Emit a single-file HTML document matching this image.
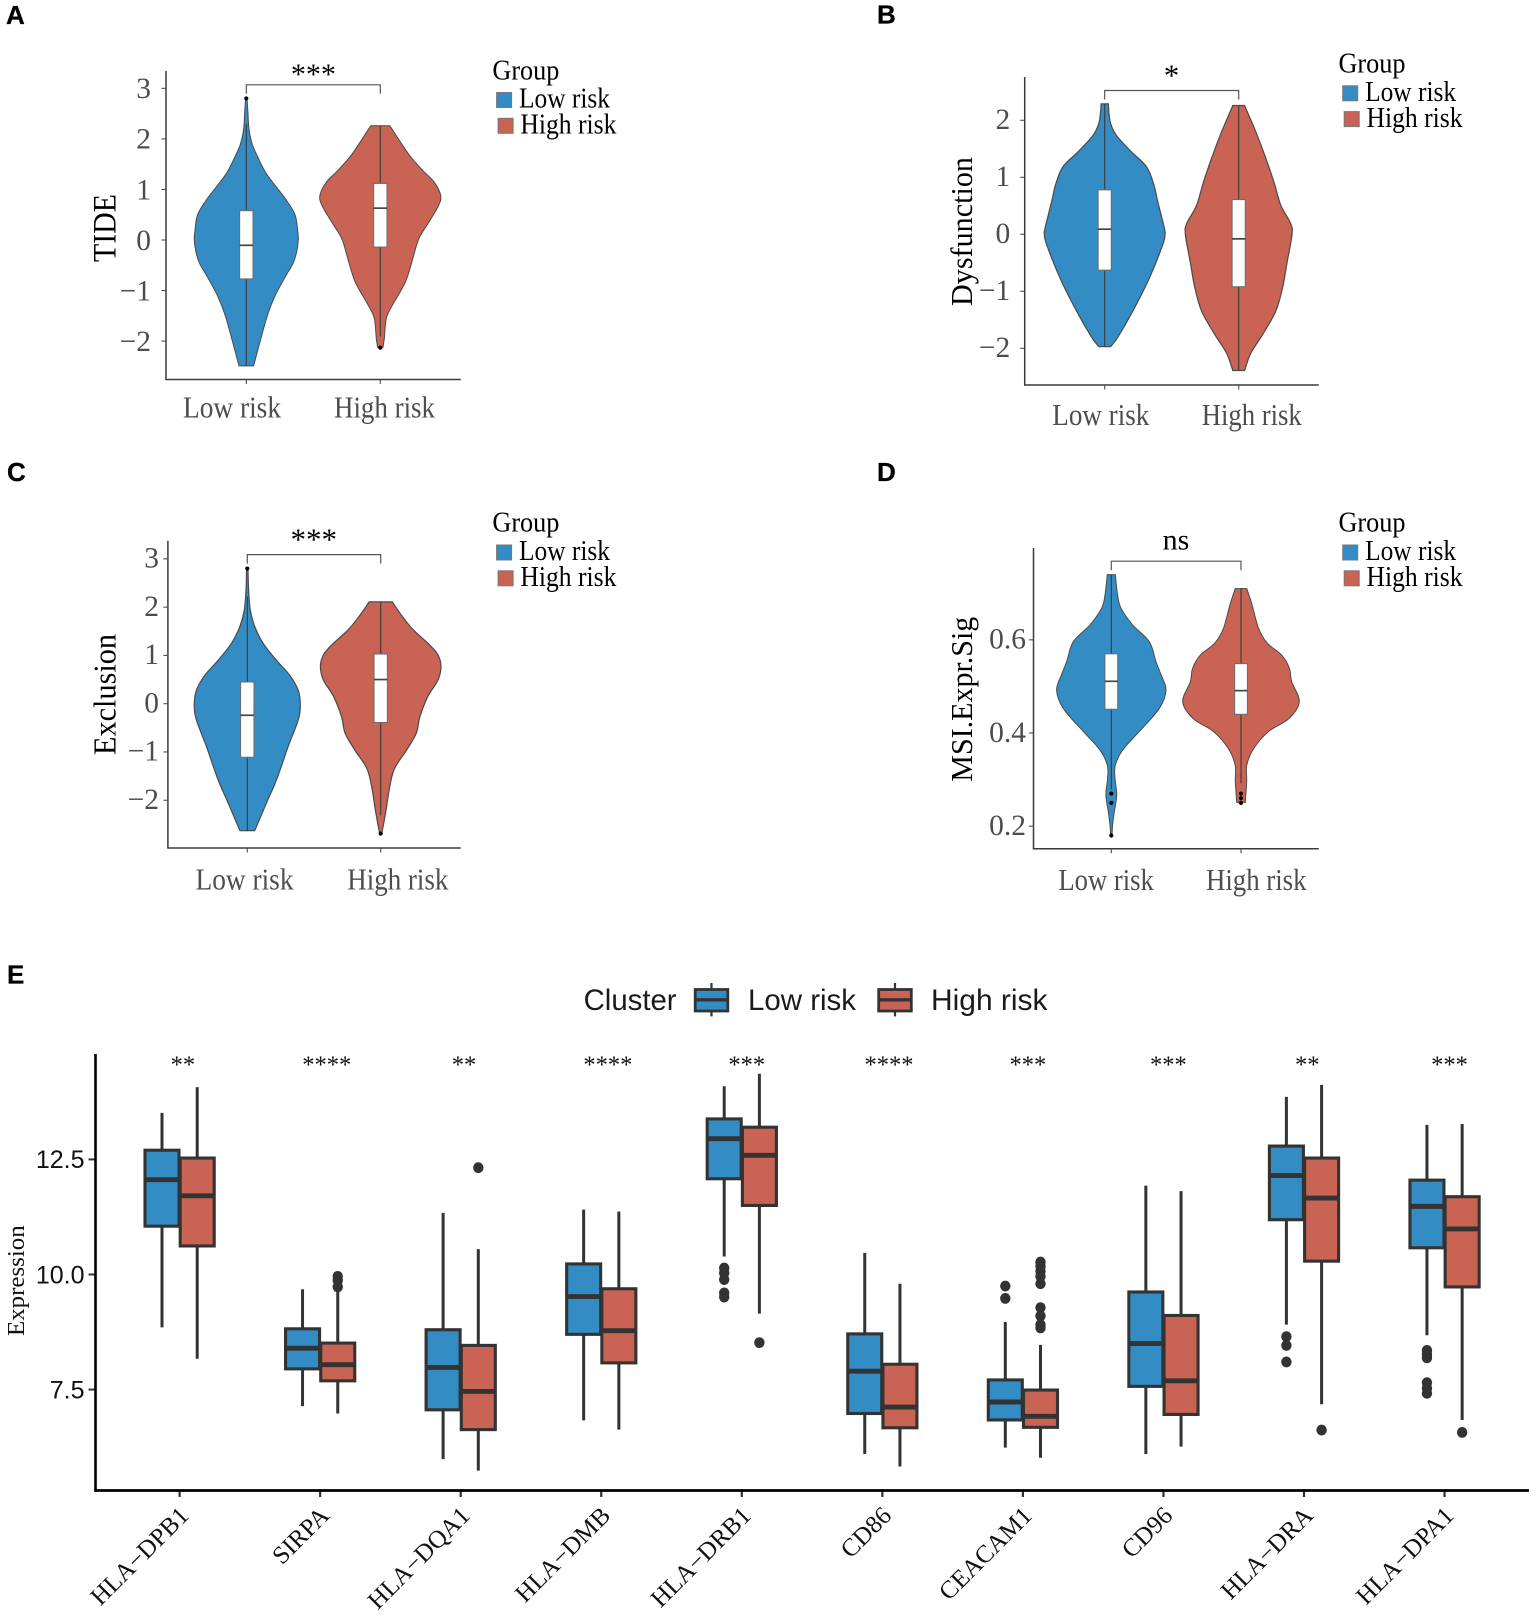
<!DOCTYPE html>
<html lang="en">
<head>
<meta charset="utf-8">
<title>Immune panels: violin and box plots by risk group</title>
<style>
html,body{margin:0;padding:0;background:#fff;}
svg{display:block;}
</style>
</head>
<body>
<svg id="figure" xmlns="http://www.w3.org/2000/svg" width="1535" height="1615" viewBox="0 0 1535 1615"></svg>
<script>
/* ---------- Shared labels ---------- */
const groupNames = ['Low risk', 'High risk'];

/* ---------- Panel A data ---------- */
const aTicks = [-2, -1, 0, 1, 2, 3];
const aTickLabels = ['\u22122', '\u22121', '0', '1', '2', '3'];
const aLowValues = [2.80, 2.54, 2.27, 2.08, 1.88, 1.62, 1.32, 1.06, .76, .49, .16, 0, -.23, -.46, -.69, -1.09, -1.48, -1.95, -2.49];
const aLowDensity = [.013, .03, .045, .07, .12, .23, .38, .57, .79, .94, .99, 1, .97, .90, .77, .56, .41, .28, .14];
const aHighValues = [2.26, 1.98, 1.65, 1.38, 1.15, .89, .69, .36, .03, -.36, -.82, -1.29, -1.55, -1.95, -2.12];
const aHighDensity = [.16, .31, .50, .70, .89, 1, .97, .81, .64, .54, .42, .20, .10, .066, .044];
const aLowBox = [-2.49, -.77, -.105, .58, 2.30];
const aHighBox = [-1.91, -.14, .63, 1.12, 2.26];
const aLowOutliers = [2.80];
const aHighOutliers = [-2.13];

/* ---------- Panel B data ---------- */
const bTicks = [-2, -1, 0, 1, 2];
const bTickLabels = ['\u22122', '\u22121', '0', '1', '2'];
const bLowValues = [2.29, 1.98, 1.74, 1.45, 1.19, .89, .57, .105, -.01, -.19, -.77, -1.36, -1.80, -1.97];
const bLowDensity = [.06, .09, .19, .44, .69, .81, .88, .99, 1, .96, .74, .46, .22, .10];
const bHighValues = [2.26, 1.80, 1.33, .92, .51, .19, -.01, -.48, -.95, -1.36, -1.77, -2.09, -2.39];
const bHighDensity = [.11, .32, .51, .66, .79, .975, 1, .91, .82, .69, .44, .225, .11];
const bLowBox = [-1.97, -.63, .09, .78, 2.29];
const bHighBox = [-2.39, -.92, -.08, .61, 2.26];
const bLowOutliers = [];
const bHighOutliers = [];

/* ---------- Panel C data ---------- */
const cTicks = [-2, -1, 0, 1, 2, 3];
const cTickLabels = ['\u22122', '\u22121', '0', '1', '2', '3'];
const cLowValues = [2.80, 2.35, 1.94, 1.60, 1.25, .90, .59, .28, -.03, -.34, -.89, -1.58, -2.06, -2.63];
const cLowDensity = [.013, .025, .057, .14, .30, .55, .80, .96, 1, .96, .77, .55, .36, .14];
const cHighValues = [2.11, 1.84, 1.53, 1.22, 1.01, .77, .49, .145, -.27, -.61, -.96, -1.34, -1.72, -2.27, -2.69];
const cHighDensity = [.19, .34, .54, .81, .95, 1, .95, .78, .65, .59, .43, .23, .15, .08, .017];
const cLowBox = [-2.64, -1.11, -.24, .45, 2.22];
const cHighBox = [-2.31, -.39, .50, 1.03, 2.11];
const cLowOutliers = [2.80];
const cHighOutliers = [-2.69];

/* ---------- Panel D data ---------- */
const dTicks = [0.2, 0.4, 0.6];
const dTickLabels = ['0.2', '0.4', '0.6'];
const dLowValues = [.74, .696, .668, .632, .596, .553, .525, .492, .453, .403, .364, .331, .303, .267, .231, .202, .181];
const dLowDensity = [.073, .116, .177, .39, .695, .817, .91, 1, .88, .51, .21, .073, .067, .098, .055, .024, .012];
const dHighValues = [.71, .675, .625, .593, .567, .539, .51, .467, .431, .403, .367, .331, .296, .251];
const dHighDensity = [.10, .19, .30, .45, .70, .83, .87, 1, .82, .47, .22, .10, .097, .074];
const dLowBox = [.279, .451, .511, .57, .74];
const dHighBox = [.292, .44, .491, .549, .711];
const dLowOutliers = [.27, .25, .18];
const dHighOutliers = [.27, .26, .25];

/* ---------- Panel E data ---------- */
const eCategories = ['HLA\u2212DPB1', 'SIRPA', 'HLA\u2212DQA1', 'HLA\u2212DMB', 'HLA\u2212DRB1', 'CD86', 'CEACAM1', 'CD96', 'HLA\u2212DRA', 'HLA\u2212DPA1'];
const eSignificance = ['**', '****', '**', '****', '***', '****', '***', '***', '**', '***'];
const eTicks = [7.5, 10, 12.5];
const eTickLabels = ['7.5', '10.0', '12.5'];
const eLowWhiskerLow = [8.85, 7.14, 5.99, 6.83, 10.39, 6.10, 6.24, 6.10, 8.91, 8.68];
const eLowQ1 = [11.05, 7.95, 7.06, 8.70, 12.08, 6.98, 6.84, 7.57, 11.19, 10.58];
const eLowMedian = [12.06, 8.40, 7.98, 9.52, 12.95, 7.90, 7.23, 8.50, 12.15, 11.48];
const eLowQ3 = [12.70, 8.82, 8.80, 10.23, 13.38, 8.71, 7.71, 9.62, 12.79, 12.05];
const eLowWhiskerHigh = [13.51, 9.68, 11.34, 11.41, 14.09, 10.47, 8.97, 11.93, 13.86, 13.25];
const eHighWhiskerLow = [8.17, 6.98, 5.74, 6.63, 9.15, 5.83, 6.02, 6.26, 7.18, 6.84];
const eHighQ1 = [10.62, 7.69, 6.63, 8.08, 11.50, 6.67, 6.68, 6.96, 10.29, 9.73];
const eHighMedian = [11.71, 8.04, 7.46, 8.78, 12.59, 7.12, 6.92, 7.69, 11.66, 10.99];
const eHighQ3 = [12.53, 8.51, 8.46, 9.69, 13.20, 8.05, 7.49, 9.11, 12.53, 11.69];
const eHighWhiskerHigh = [14.07, 9.66, 10.55, 11.37, 14.36, 9.80, 8.47, 11.81, 14.12, 13.27];
const eLowOutliers = [[], [], [], [], [10.14, 10.03, 9.89, 9.60, 9.51], [], [9.75, 9.48], [], [8.65, 8.46, 8.10], [8.35, 8.26, 8.19, 7.65, 7.53, 7.42]];
const eHighOutliers = [[], [9.96, 9.87, 9.73], [12.32], [], [8.52], [], [10.27, 10.18, 10.07, 9.96, 9.80, 9.28, 9.10, 8.91, 8.84], [], [6.62], [6.57]];

/* ---------- Helpers ---------- */
const SERIF = '"Liberation Serif", serif';
const SANS = '"Liberation Sans", sans-serif';
const BLUE = '#338cc3';
const RED = '#c96353';
const svg = document.getElementById('figure');

function mk(parent, tag, attrs) {
  const n = document.createElementNS('http://www.w3.org/2000/svg', tag);
  for (const k in attrs) n.setAttribute(k, attrs[k]);
  parent.appendChild(n);
  return n;
}
function textAttrs(x, y, size, family, fill, extra) {
  return Object.assign({x: x, y: y, 'font-size': size, 'font-family': family, fill: fill}, extra || {});
}
function fitted(len) {
  return {textLength: len, lengthAdjust: 'spacingAndGlyphs'};
}
function smoothSide(points) {
  let d = '';
  for (let i = 0; i < points.length - 1; i++) {
    const p0 = points[Math.max(i - 1, 0)];
    const p1 = points[i];
    const p2 = points[i + 1];
    const p3 = points[Math.min(i + 2, points.length - 1)];
    const c1x = p1[0] + (p2[0] - p0[0]) / 6;
    const c1y = p1[1] + (p2[1] - p0[1]) / 6;
    const c2x = p2[0] - (p3[0] - p1[0]) / 6;
    const c2y = p2[1] - (p3[1] - p1[1]) / 6;
    d += 'C' + c1x.toFixed(1) + ' ' + c1y.toFixed(1) + ' ' + c2x.toFixed(1) + ' ' + c2y.toFixed(1) + ' ' + p2[0].toFixed(1) + ' ' + p2[1].toFixed(1);
  }
  return d;
}

function drawViolinGroup(g, key, yOf, cx, halfMax, boxHalf, values, density, box, outliers, fill, strokeW) {
  const right = values.map((v, i) => [cx + density[i] * halfMax, yOf(v)]);
  const left = values.map((v, i) => [cx - density[i] * halfMax, yOf(v)]).reverse();
  const d = 'M' + right[0][0].toFixed(1) + ' ' + right[0][1].toFixed(1) + smoothSide(right) +
    'L' + left[0][0].toFixed(1) + ' ' + left[0][1].toFixed(1) + smoothSide(left) + 'Z';
  const violin = mk(g, 'path', {d: d, fill: fill, stroke: '#4a4a4a', 'stroke-width': strokeW});
  
  

  const whisker = mk(g, 'line', {x1: cx, x2: cx, y1: yOf(box[0]), y2: yOf(box[4]), stroke: '#3a3a3a', 'stroke-width': 1.1});
  
  

  const rect = mk(g, 'rect', {x: cx - boxHalf, y: yOf(box[3]), width: boxHalf * 2, height: yOf(box[1]) - yOf(box[3]), fill: '#fff', stroke: '#6e6e6e', 'stroke-width': 1.1});
  
  

  const med = mk(g, 'line', {x1: cx - boxHalf, x2: cx + boxHalf, y1: yOf(box[2]), y2: yOf(box[2]), stroke: '#444', 'stroke-width': 1.7});
  
  

  outliers.forEach(function (v) {
    const c = mk(g, 'circle', {cx: cx, cy: yOf(v), r: 2.1, fill: '#000'});
    
    
  });
}

function drawViolinPanel(c) {
  const g = mk(svg, 'g', {});
  
  
  const yOf = v => c.y0 - (v - c.v0) * c.unit;

  const letter = mk(g, 'text', textAttrs(c.letterX, c.letterY, 26, SANS, '#000', {'font-weight': 'bold', stroke: '#000', 'stroke-width': .3}));
  letter.textContent = c.id.toUpperCase();
  
  

  const yAxis = mk(g, 'line', {x1: c.axisX, x2: c.axisX, y1: c.top, y2: c.base, stroke: '#3a3a3a', 'stroke-width': 1.5});
  
  
  const xAxis = mk(g, 'line', {x1: c.axisX - .7, x2: c.right, y1: c.base, y2: c.base, stroke: '#3a3a3a', 'stroke-width': 1.5});
  
  

  c.ticks.forEach(function (t, i) {
    const tick = mk(g, 'line', {x1: c.axisX - 4.5, x2: c.axisX, y1: yOf(t), y2: yOf(t), stroke: '#4d4d4d', 'stroke-width': 1.1});
    
    
    const lab = mk(g, 'text', textAttrs(c.tickLabelX, yOf(t) + c.tickDy, 29.5, SERIF, '#4d4d4d', {'text-anchor': 'end'}));
    lab.textContent = c.tickLabels[i];
    
    
  });

  const yTitle = mk(g, 'text', Object.assign(textAttrs(c.titleX, c.titleBottom, c.titleSize, SERIF, '#000', {transform: 'rotate(-90 ' + c.titleX + ' ' + c.titleBottom + ')'}), fitted(c.titleLen)));
  yTitle.textContent = c.title;
  
  

  [c.lowX, c.highX].forEach(function (x) {
    const tick = mk(g, 'line', {x1: x, x2: x, y1: c.base, y2: c.base + 4.5, stroke: '#4d4d4d', 'stroke-width': 1.1});
    
    
  });
  c.xLabels.forEach(function (l, i) {
    const lab = mk(g, 'text', Object.assign(textAttrs(l[0], c.xLabelY, 30.5, SERIF, '#4d4d4d'), fitted(l[1])));
    lab.textContent = groupNames[i];
    
    
  });

  drawViolinGroup(g, 'low-risk', yOf, c.lowX, c.lowHalf, c.boxHalf, c.lowValues, c.lowDensity, c.lowBox, c.lowOutliers, BLUE, c.strokeW);
  drawViolinGroup(g, 'high-risk', yOf, c.highX, c.highHalf, c.boxHalf, c.highValues, c.highDensity, c.highBox, c.highOutliers, RED, c.strokeW);

  const bracket = mk(g, 'path', {d: 'M' + c.lowX + ' ' + (c.bracketY + 9) + 'V' + c.bracketY + 'H' + c.highX + 'V' + (c.bracketY + 9), fill: 'none', stroke: '#555', 'stroke-width': 1.2});
  
  
  const sig = mk(g, 'text', textAttrs(c.sigX, c.sigY, c.sigSize, SERIF, '#000', {'text-anchor': 'middle'}));
  sig.textContent = c.sig;
  
  

  const lgTitle = mk(g, 'text', Object.assign(textAttrs(c.legendX, c.legendTitleY, 28.5, SERIF, '#000'), fitted(67)));
  lgTitle.textContent = 'Group';
  
  

  const sw1 = mk(g, 'rect', {x: c.legendX + 4.2, y: c.legendLowY - 15, width: 15, height: 15, fill: BLUE, stroke: '#777', 'stroke-width': 1});
  
  
  const sw2 = mk(g, 'rect', {x: c.legendX + 5.7, y: c.legendHighY - 15.2, width: 15, height: 15, fill: RED, stroke: '#777', 'stroke-width': 1});
  
  

  const lg1 = mk(g, 'text', Object.assign(textAttrs(c.legendX + 26.6, c.legendLowY, 28.5, SERIF, '#000'), fitted(91)));
  lg1.textContent = groupNames[0];
  
  
  const lg2 = mk(g, 'text', Object.assign(textAttrs(c.legendX + 28, c.legendHighY, 28.5, SERIF, '#000'), fitted(96)));
  lg2.textContent = groupNames[1];
  
  
}

/* ---------- Panels A-D ---------- */
drawViolinPanel({
  id: 'a', title: 'TIDE', sig: '***', letterX: 6, letterY: 24,
  axisX: 166, top: 71, base: 379.5, right: 460.7, y0: 240, v0: 0, unit: 50.55,
  ticks: aTicks, tickLabels: aTickLabels, tickLabelX: 151, tickDy: 9.8,
  titleX: 115.5, titleBottom: 262, titleLen: 68, titleSize: 33,
  lowX: 246.3, highX: 380.3, lowHalf: 52, highHalf: 60.3, boxHalf: 6.7, strokeW: 1,
  xLabels: [[183, 98], [334, 101]], xLabelY: 417.7,
  lowValues: aLowValues, lowDensity: aLowDensity, lowBox: aLowBox, lowOutliers: aLowOutliers,
  highValues: aHighValues, highDensity: aHighDensity, highBox: aHighBox, highOutliers: aHighOutliers,
  bracketY: 84.8, sigX: 313.4, sigY: 84, sigSize: 30,
  legendX: 492.4, legendTitleY: 79.3, legendLowY: 107.5, legendHighY: 133.5
});
drawViolinPanel({
  id: 'b', title: 'Dysfunction', sig: '*', letterX: 877, letterY: 23.5,
  axisX: 1024.7, top: 77, base: 385, right: 1318.8, y0: 234.3, v0: 0, unit: 57,
  ticks: bTicks, tickLabels: bTickLabels, tickLabelX: 1010.3, tickDy: 8.8,
  titleX: 972, titleBottom: 306, titleLen: 149, titleSize: 31,
  lowX: 1104.7, highX: 1238.7, lowHalf: 60.3, highHalf: 53.3, boxHalf: 6.6, strokeW: 1.2,
  xLabels: [[1052.3, 97], [1201.7, 100]], xLabelY: 425,
  lowValues: bLowValues, lowDensity: bLowDensity, lowBox: bLowBox, lowOutliers: bLowOutliers,
  highValues: bHighValues, highDensity: bHighDensity, highBox: bHighBox, highOutliers: bHighOutliers,
  bracketY: 90.5, sigX: 1171.5, sigY: 85.5, sigSize: 31,
  legendX: 1338.5, legendTitleY: 72.7, legendLowY: 100.8, legendHighY: 126.8
});
drawViolinPanel({
  id: 'c', title: 'Exclusion', sig: '***', letterX: 7, letterY: 481,
  axisX: 167.9, top: 540.7, base: 848, right: 460.7, y0: 703.7, v0: 0, unit: 48.27,
  ticks: cTicks, tickLabels: cTickLabels, tickLabelX: 159, tickDy: 8.6,
  titleX: 115.5, titleBottom: 755, titleLen: 121, titleSize: 32,
  lowX: 247.3, highX: 380.7, lowHalf: 53, highHalf: 60.3, boxHalf: 6.7, strokeW: 1.2,
  xLabels: [[195.5, 98], [347.3, 101]], xLabelY: 889.3,
  lowValues: cLowValues, lowDensity: cLowDensity, lowBox: cLowBox, lowOutliers: cLowOutliers,
  highValues: cHighValues, highDensity: cHighDensity, highBox: cHighBox, highOutliers: cHighOutliers,
  bracketY: 554.6, sigX: 313.8, sigY: 549.5, sigSize: 31,
  legendX: 492.4, legendTitleY: 531.7, legendLowY: 560, legendHighY: 586
});
drawViolinPanel({
  id: 'd', title: 'MSI.Expr.Sig', sig: 'ns', letterX: 877, letterY: 481,
  axisX: 1033.5, top: 548, base: 848.7, right: 1318.8, y0: 733, v0: 0.4, unit: 465.8,
  ticks: dTicks, tickLabels: dTickLabels, tickLabelX: 1026, tickDy: 8.8,
  titleX: 972, titleBottom: 781.7, titleLen: 165, titleSize: 31,
  lowX: 1111.3, highX: 1241, lowHalf: 54.7, highHalf: 58.3, boxHalf: 6.4, strokeW: 1,
  xLabels: [[1058.4, 95.5], [1206, 100.5]], xLabelY: 890,
  lowValues: dLowValues, lowDensity: dLowDensity, lowBox: dLowBox, lowOutliers: dLowOutliers,
  highValues: dHighValues, highDensity: dHighDensity, highBox: dHighBox, highOutliers: dHighOutliers,
  bracketY: 561.2, sigX: 1176, sigY: 549.3, sigSize: 30,
  legendX: 1338.5, legendTitleY: 531.7, legendLowY: 560, legendHighY: 586
});

/* ---------- Panel E ---------- */
(function () {
  const g = mk(svg, 'g', {});
  
  
  const axisX = 95.5, top = 1054, base = 1490.5, right = 1529;
  const yOf = v => 1274.5 - (v - 10) * 46.03;
  const xOf = i => 179.6 + 140.55 * i;
  const dodge = 17.6, halfBox = 17;
  const DARK = '#333';

  const letter = mk(g, 'text', textAttrs(7, 983.5, 26, SANS, '#000', {'font-weight': 'bold', stroke: '#000', 'stroke-width': .3}));
  letter.textContent = 'E';
  
  

  const clusterTitle = mk(g, 'text', Object.assign(textAttrs(583.6, 1010, 29.4, SANS, '#1a1a1a'), fitted(93)));
  clusterTitle.textContent = 'Cluster';
  
  

  [[711.5, 748, 108, BLUE, 'low-risk'], [895, 931, 116.5, RED, 'high-risk']].forEach(function (k, i) {
    const stem = mk(g, 'line', {x1: k[0], x2: k[0], y1: 983, y2: 1016.4, stroke: DARK, 'stroke-width': 2.2});
    
    
    const box = mk(g, 'rect', {x: k[0] - 16.3, y: 989.5, width: 32.6, height: 21.5, fill: k[3], stroke: DARK, 'stroke-width': 2.8});
    
    
    const med = mk(g, 'line', {x1: k[0] - 16.3, x2: k[0] + 16.3, y1: 999.8, y2: 999.8, stroke: DARK, 'stroke-width': 3.4});
    
    
    const t = mk(g, 'text', Object.assign(textAttrs(k[1], 1010, 29.4, SANS, '#1a1a1a'), fitted(k[2])));
    t.textContent = groupNames[i];
    
    
  });

  const yTitle = mk(g, 'text', Object.assign(textAttrs(24, 1336, 24.5, SERIF, '#111', {transform: 'rotate(-90 24 1336)'}), fitted(110.7)));
  yTitle.textContent = 'Expression';
  
  

  eTicks.forEach(function (t, i) {
    const tick = mk(g, 'line', {x1: axisX - 7, x2: axisX, y1: yOf(t), y2: yOf(t), stroke: DARK, 'stroke-width': 2});
    
    
    const lab = mk(g, 'text', textAttrs(84.5, yOf(t) + 8.8, 25, SANS, '#111', {'text-anchor': 'end'}));
    lab.textContent = eTickLabels[i];
    
    
  });

  function drawBox(cx, wl, q1, med, q3, wh, outs, fill, key) {
    const w = mk(g, 'line', {x1: cx, x2: cx, y1: yOf(wl), y2: yOf(wh), stroke: DARK, 'stroke-width': 3});
    
    
    const r = mk(g, 'rect', {x: cx - halfBox, y: yOf(q3), width: halfBox * 2, height: yOf(q1) - yOf(q3), fill: fill, stroke: DARK, 'stroke-width': 3.1});
    
    
    const m = mk(g, 'line', {x1: cx - halfBox, x2: cx + halfBox, y1: yOf(med), y2: yOf(med), stroke: DARK, 'stroke-width': 4.9});
    
    
    outs.forEach(function (v) {
      const c = mk(g, 'ellipse', {cx: cx, cy: yOf(v), rx: 5.2, ry: 5.4, fill: DARK});
      
      
    });
  }

  eCategories.forEach(function (name, i) {
    const cx = xOf(i);
    const tick = mk(g, 'line', {x1: cx, x2: cx, y1: base, y2: base + 6.5, stroke: DARK, 'stroke-width': 2.2});
    
    

    const keyLow = 'low-risk-' + name.toLowerCase().replace('\u2212', '-');
    const keyHigh = 'high-risk-' + name.toLowerCase().replace('\u2212', '-');
    drawBox(cx - dodge, eLowWhiskerLow[i], eLowQ1[i], eLowMedian[i], eLowQ3[i], eLowWhiskerHigh[i], eLowOutliers[i], BLUE, keyLow);
    drawBox(cx + dodge, eHighWhiskerLow[i], eHighQ1[i], eHighMedian[i], eHighQ3[i], eHighWhiskerHigh[i], eHighOutliers[i], RED, keyHigh);

    const sig = mk(g, 'text', textAttrs(cx + 1.65 * eSignificance[i].length, 1072.5, 24.5, SERIF, '#111', {'text-anchor': 'middle'}));
    sig.textContent = eSignificance[i];
    
    

    const lx = cx + 10.5, ly = 1517;
    const lab = mk(g, 'text', textAttrs(lx, ly, 25, SERIF, '#111', {'text-anchor': 'end', transform: 'rotate(-45 ' + lx + ' ' + ly + ')'}));
    lab.textContent = name;
    
    
  });

  const yAxis = mk(g, 'line', {x1: axisX, x2: axisX, y1: top, y2: base + 1.2, stroke: '#000', 'stroke-width': 2.6});
  
  
  const xAxis = mk(g, 'line', {x1: axisX - 1.2, x2: right, y1: base, y2: base, stroke: '#000', 'stroke-width': 2.8});
  
  
})();
</script>
</body>
</html>
